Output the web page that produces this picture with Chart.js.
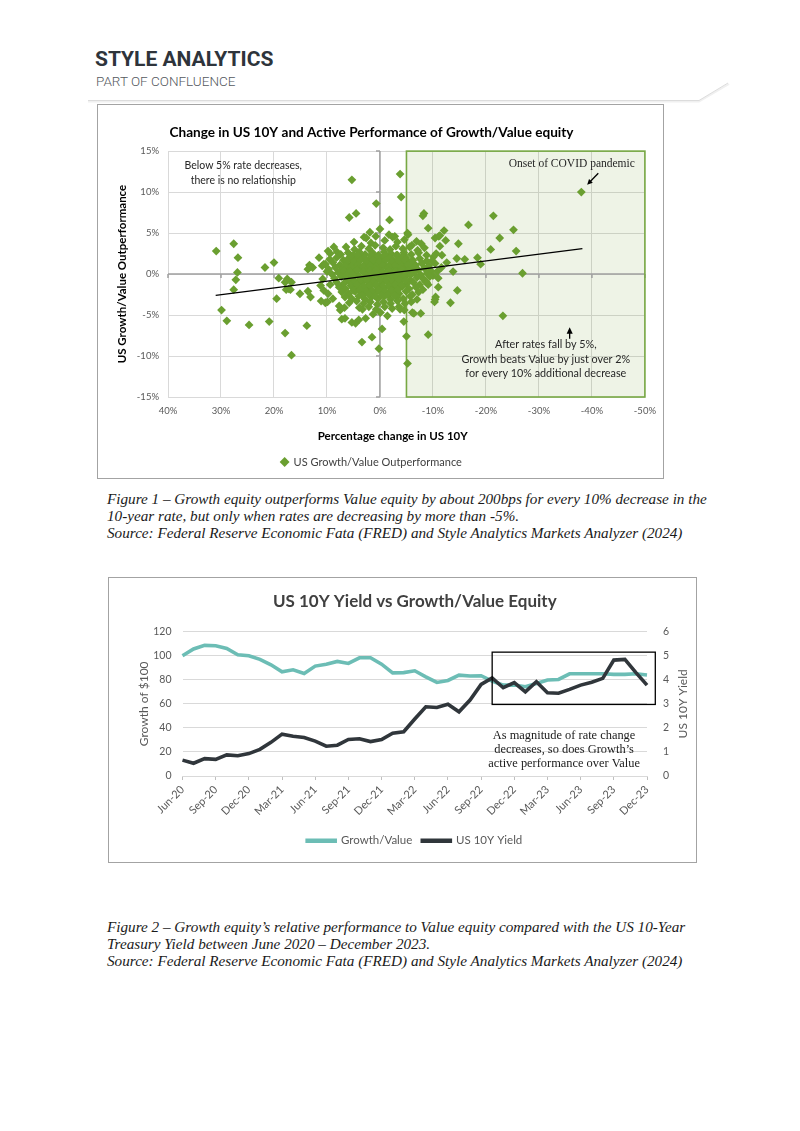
<!DOCTYPE html>
<html>
<head>
<meta charset="utf-8">
<title>Style Analytics - US 10Y and Growth/Value</title>
<script src="https://cdn.jsdelivr.net/npm/chart.js@4.4.1/dist/chart.umd.min.js"></script>
<style>
  body { margin: 0; background: #fff; }
  .page { position: relative; width: 800px; height: 1131px; overflow: hidden; }
  .brand { position: absolute; left: 95px; top: 49px; font: 700 21px/21px Roboto, sans-serif; color: #2e343b; }
  .brand-sub { position: absolute; left: 96px; top: 75px; font: 300 13.5px/13.5px Roboto, sans-serif; color: #55595e; }
  .rule { position: absolute; left: 0; top: 0; }
  .frame { position: absolute; border: 1px solid #a3a3a3; box-sizing: border-box; }
  canvas { position: absolute; }
  .caption { position: absolute; left: 107px; font: italic 15.2px/17px "Liberation Serif", serif; color: #1a1a1a; white-space: nowrap; }
</style>
</head>
<body>
<div class="page">
  <div class="brand">STYLE ANALYTICS</div>
  <div class="brand-sub">PART OF CONFLUENCE</div>
  <svg class="rule" width="800" height="120">
    <polyline points="88,101.5 699,101.5 729,84" fill="none" stroke="#f0f0f0" stroke-width="2"/>
    <polyline points="88,100.5 699,100.5 728,83" fill="none" stroke="#dcdcdc" stroke-width="1"/>
  </svg>

  <div class="frame" style="left:97px; top:104px; width:567px; height:375px;"></div>
  <canvas id="rateScatter" width="567" height="375" style="left:97px; top:104px;"></canvas>

  <div class="caption" style="top:490px;">
    Figure 1 – Growth equity outperforms Value equity by about 200bps for every 10% decrease in the<br>
    10-year rate, but only when rates are decreasing by more than -5%.<br>
    Source: Federal Reserve Economic Fata (FRED) and Style Analytics Markets Analyzer (2024)
  </div>

  <div class="frame" style="left:108px; top:577px; width:589px; height:286px;"></div>
  <canvas id="yieldLines" width="589" height="286" style="left:108px; top:577px;"></canvas>

  <div class="caption" style="top:918px;">
    Figure 2 – Growth equity’s relative performance to Value equity compared with the US 10-Year<br>
    Treasury Yield between June 2020 – December 2023.<br>
    Source: Federal Reserve Economic Fata (FRED) and Style Analytics Markets Analyzer (2024)
  </div>
</div>

<script>
// ---- Figure 1 data: [% change in US 10Y, Growth/Value outperformance %] per month ----
const monthlyObservations = [
  // rates rising a lot
  [30.9, 2.8], [27.6, 3.7], [26.8, 2.0], [26.9, 0.2], [27.2, -0.7], [27.6, -1.9], [29.9, -4.4], [28.9, -5.7],
  [24.7, -6.2], [21.7, 0.8], [20.0, 1.4], [20.9, -5.8], [19.5, -3.0], [19.1, -0.5], [17.9, -7.2], [16.7, -9.9],
  [17.9, -1.0], [17.5, -0.6], [17.7, -1.9], [17.2, -1.8], [16.7, -1.0], [16.9, -1.9], [15.1, -2.4], [13.6, -2.1],
  [13.1, -2.8], [13.6, 0.6], [13.3, 1.1], [12.7, 0.8], [13.1, 0.9], [13.8, -6.3], [11.5, 2.0], [11.1, -3.3],
  [10.9, 1.0], [10.6, 1.2], [10.8, -0.6], [11.2, -1.4], [10.6, -2.0], [10.3, -3.5], [9.9, -3.4], [8.7, 3.3],
  [7.5, -4.4], [9.8, 2.8], [9.4, -1.3], [9.8, -2.4], [10.0, 0.3], [8.9, -3.0], [7.7, -3.9], [6.7, -4.1],
  // around zero, away from the mass
  [5.3, 11.5], [-3.8, 12.2], [-4.0, 9.4], [0.7, 8.6], [4.5, 7.4], [5.8, 6.9], [-1.8, 6.6], [0.0, 5.5],
  [3.0, 4.5], [1.9, 5.1], [-1.7, 4.8], [-2.8, 4.6], [3.4, -8.3], [1.5, -7.7], [0.2, -9.1], [-0.4, -6.7],
  [-1.4, -5.1], [-5.2, -10.9], [-5.0, -7.6], [3.3, -4.3], [2.7, -5.4], [7.2, -5.5], [6.6, -5.4], [5.3, -5.9],
  [4.6, -6.0], [4.0, -5.6], [-3.6, -4.0], [-3.8, -4.3], [-6.4, -4.8], [-6.1, -4.7], [-7.7, -4.8], [-4.5, -5.8],
  [-5.2, 5.0], [-6.0, 3.5],
  // rates falling
  [-8.3, 7.4], [-8.1, 7.1], [-9.1, 5.6], [-5.3, 4.8], [-10.4, 4.4], [-11.1, 4.6], [-11.3, 4.7], [-12.1, 5.3],
  [-12.4, 4.1], [-11.3, 3.4], [-11.7, 2.3], [-16.7, 6.0], [-21.4, 7.1], [-25.2, 5.4], [-22.6, 4.4], [-20.9, 3.0],
  [-25.7, 2.8], [-14.8, 3.7], [-14.5, 1.9], [-16.0, 1.8], [-18.4, 2.0], [-19.0, 1.2], [-12.6, 1.4], [-13.8, 0.3],
  [-26.9, 0.1], [-23.2, -5.1], [-13.3, -3.5], [-14.6, -2.0], [-11.0, -1.6], [-10.5, -2.8], [-10.3, -3.4], [-10.4, -3.1],
  [-9.1, -7.4], [-11.0, -0.5], [-10.8, 0.3], [-10.4, 1.3], [-10.6, 2.5], [-10.1, 2.1], [-9.8, 1.6], [-9.1, -1.3],
  [-8.6, -0.9], [-38.0, 10.0],
  // the dense mass of small moves
  [2.6, 4.4], [-0.9, 4.1], [-2.4, 4.5], [-4.6, 4.2], [0.8, 4.6], [-3.3, 3.9], [4.9, 3.9], [-6.9, 4.0], [-7.8, 3.7], [1.7, 3.8],
  [6.4, 3.3], [4.8, 3.0], [3.5, 3.4], [2.1, 3.1], [0.9, 3.5], [-0.6, 3.2], [-1.9, 3.0], [-3.0, 3.4], [-4.3, 3.1], [-5.6, 3.3],
  [-7.1, 2.9], [-8.4, 3.2], [8.1, 2.7],
  [7.4, 2.4], [6.0, 2.6], [5.0, 2.3], [3.9, 2.7], [2.8, 2.4], [1.4, 2.6], [0.3, 2.3], [-0.8, 2.7], [-2.1, 2.5], [-3.3, 2.3],
  [-4.5, 2.6], [-5.9, 2.4], [-7.3, 2.6], [-8.8, 2.3], [9.4, 2.5],
  [9.5, 1.8], [8.2, 2.0], [6.9, 1.7], [5.8, 2.0], [4.6, 1.8], [3.4, 2.1], [2.2, 1.7], [1.0, 2.0], [-0.1, 1.8], [-1.3, 2.1],
  [-2.5, 1.7], [-3.7, 1.9], [-4.9, 2.0], [-6.2, 1.7], [-7.5, 1.9], [-8.8, 1.6],
  [10.3, 1.2], [8.9, 1.4], [7.6, 1.1], [6.5, 1.4], [5.3, 1.2], [4.2, 1.5], [3.0, 1.1], [1.7, 1.4], [0.6, 1.2], [-0.6, 1.5],
  [-1.8, 1.1], [-3.0, 1.4], [-4.2, 1.2], [-5.4, 1.5], [-6.7, 1.1], [-7.9, 1.3], [-9.2, 1.0],
  [9.7, 0.6], [8.4, 0.8], [7.2, 0.5], [6.0, 0.8], [4.9, 0.6], [3.7, 0.9], [2.5, 0.5], [1.3, 0.8], [0.1, 0.6], [-1.1, 0.9],
  [-2.3, 0.5], [-3.5, 0.8], [-4.7, 0.6], [-5.9, 0.9], [-7.2, 0.5], [-8.4, 0.7], [-9.6, 0.4], [-11.6, 0.8],
  [9.1, 0.0], [7.9, 0.2], [6.7, -0.1], [5.5, 0.2], [4.4, 0.0], [3.2, 0.3], [2.0, -0.1], [0.8, 0.2], [-0.4, 0.0], [-1.6, 0.3],
  [-2.8, -0.1], [-4.0, 0.2], [-5.2, 0.0], [-6.5, 0.3], [-7.7, -0.1], [-8.9, 0.1], [-10.0, -0.2],
  [8.6, -0.5], [7.3, -0.3], [6.1, -0.6], [5.0, -0.4], [3.8, -0.7], [2.7, -0.4], [1.5, -0.6], [0.3, -0.3], [-0.9, -0.7], [-2.1, -0.4],
  [-3.3, -0.6], [-4.5, -0.3], [-5.7, -0.7], [-7.0, -0.4], [-8.2, -0.6], [-9.4, -0.3],
  [8.2, -1.0], [6.9, -1.2], [5.7, -0.9], [4.5, -1.2], [3.4, -1.0], [2.2, -1.3], [1.0, -0.9], [-0.2, -1.2], [-1.4, -1.0], [-2.6, -1.3],
  [-3.8, -0.9], [-5.0, -1.2], [-6.3, -1.0], [-7.5, -1.3], [-8.8, -1.0],
  [7.7, -1.6], [6.5, -1.8], [5.3, -1.5], [4.1, -1.8], [2.9, -1.6], [1.8, -1.9], [0.6, -1.5], [-0.6, -1.8], [-1.8, -1.6], [-3.0, -1.9],
  [-4.2, -1.5], [-5.5, -1.8], [-6.8, -1.6], [-8.1, -1.9],
  [7.2, -2.2], [5.9, -2.4], [4.7, -2.1], [3.5, -2.5], [2.3, -2.2], [1.1, -2.4], [0.0, -2.1], [-1.2, -2.5], [-2.4, -2.2], [-3.6, -2.4],
  [-4.9, -2.1], [-6.1, -2.5], [-7.3, -2.2],
  [6.6, -2.8], [5.3, -3.0], [4.0, -2.7], [2.8, -3.1], [1.6, -2.8], [0.4, -3.0], [-0.8, -2.7], [-2.0, -3.1], [-3.2, -2.8], [-4.4, -3.0],
  [-5.7, -2.7], [-7.0, -3.1],
  [5.8, -3.5], [4.4, -3.3], [3.1, -3.6], [1.8, -3.4], [0.5, -3.7], [-0.7, -3.4], [-2.0, -3.6], [-3.3, -3.3], [-4.7, -3.6], [-5.9, -3.4],
  [3.9, -4.1], [2.1, -4.0], [0.7, -4.3], [-0.9, -4.0], [-2.3, -4.2], [-4.6, -4.4], [-0.1, -4.7], [1.3, -4.9],
  // heart of the mass
  [5.5, 2.1], [4.2, 2.3], [2.9, 2.0], [1.7, 2.3], [0.5, 2.1], [-0.7, 2.2], [-1.9, 2.0], [-3.1, 2.3], [-4.3, 2.1],
  [6.2, 1.6], [4.9, 1.5], [3.7, 1.7], [2.5, 1.5], [1.3, 1.7], [0.1, 1.5], [-1.1, 1.7], [-2.3, 1.5], [-3.5, 1.6], [-4.7, 1.7], [-5.9, 1.5],
  [6.6, 1.0], [5.4, 0.9], [4.2, 1.1], [3.1, 0.9], [1.9, 1.0], [0.7, 0.9], [-0.5, 1.1], [-1.7, 0.9], [-2.9, 1.0], [-4.1, 0.9], [-5.3, 1.1], [-6.6, 0.9],
  [6.8, 0.4], [5.6, 0.3], [4.3, 0.5], [3.1, 0.3], [1.9, 0.4], [0.7, 0.5], [-0.5, 0.3], [-1.7, 0.4], [-2.9, 0.3], [-4.1, 0.5], [-5.3, 0.4], [-6.5, 0.3],
  [6.3, -0.2], [5.1, -0.1], [3.9, -0.3], [2.6, -0.2], [1.4, -0.1], [0.2, -0.3], [-1.0, -0.2], [-2.2, -0.1], [-3.4, -0.3], [-4.6, -0.2], [-5.8, -0.1],
  [6.0, -0.8], [4.8, -0.9], [3.6, -0.7], [2.4, -0.8], [1.2, -0.9], [0.0, -0.7], [-1.2, -0.8], [-2.4, -0.9], [-3.6, -0.7], [-4.8, -0.8],
  [5.5, -1.4], [4.3, -1.3], [3.1, -1.5], [1.9, -1.4], [0.7, -1.3], [-0.5, -1.5], [-1.7, -1.4], [-2.9, -1.3], [-4.1, -1.4],
  [5.0, -2.0], [3.8, -1.9], [2.6, -2.1], [1.4, -2.0], [0.2, -1.9], [-1.0, -2.1], [-2.2, -2.0], [-3.4, -1.9],
  [3.3, -2.6], [2.1, -2.5], [0.9, -2.7], [-0.3, -2.6], [-1.5, -2.5], [-2.7, -2.6]
];

// linear trend through the cloud (Excel trendline)
const trendSlope = -0.0824;
const trendIntercept = -0.05;
const trendRange = [31, -38.2];

const zoneFrom = -5;          // shaded zone: rates falling more than 5%
const xTicksPct = [40, 30, 20, 10, 0, -10, -20, -30, -40, -50];

// ---- Figure 2 data: monthly, Jun-20 .. Dec-23 ----
const months = [
  'Jun-20', 'Jul-20', 'Aug-20', 'Sep-20', 'Oct-20', 'Nov-20', 'Dec-20',
  'Jan-21', 'Feb-21', 'Mar-21', 'Apr-21', 'May-21', 'Jun-21', 'Jul-21', 'Aug-21', 'Sep-21', 'Oct-21', 'Nov-21', 'Dec-21',
  'Jan-22', 'Feb-22', 'Mar-22', 'Apr-22', 'May-22', 'Jun-22', 'Jul-22', 'Aug-22', 'Sep-22', 'Oct-22', 'Nov-22', 'Dec-22',
  'Jan-23', 'Feb-23', 'Mar-23', 'Apr-23', 'May-23', 'Jun-23', 'Jul-23', 'Aug-23', 'Sep-23', 'Oct-23', 'Nov-23', 'Dec-23'
];
const growthValue = [
  100, 105.6, 108.6, 108.3, 106.1, 100.8, 100,
  97, 92.5, 86.7, 88.3, 85.3, 91.4, 93, 95.3, 93.6, 98.3, 98.3, 93,
  85.8, 86, 87.5, 82.5, 77.8, 79.5, 83.9, 83.1, 83.4, 79, 75.6, 75.6,
  74.2, 77, 79.8, 80.3, 85, 85, 85, 85, 84.5, 84.5, 85, 84
];
const us10yYield = [
  0.66, 0.53, 0.72, 0.69, 0.88, 0.84, 0.93,
  1.11, 1.40, 1.74, 1.65, 1.60, 1.45, 1.24, 1.28, 1.52, 1.55, 1.43, 1.52,
  1.78, 1.84, 2.37, 2.88, 2.85, 2.98, 2.67, 3.16, 3.81, 4.08, 3.67, 3.88,
  3.50, 3.92, 3.46, 3.44, 3.60, 3.78, 3.90, 4.06, 4.82, 4.85, 4.30, 3.78
];

const grey = '#595959';
const gridGrey = '#d9d9d9';
const pointGreen = '#6a9f30';

function writeLines(ctx, lines, cx, cy, gap, font, color) {
  ctx.font = font;
  ctx.fillStyle = color;
  ctx.textAlign = 'center';
  ctx.textBaseline = 'middle';
  lines.forEach((t, i) => ctx.fillText(t, cx, cy + i * gap));
}

function arrow(ctx, fx, fy, tx, ty, head) {
  const ang = Math.atan2(ty - fy, tx - fx);
  ctx.beginPath();
  ctx.moveTo(fx, fy);
  ctx.lineTo(tx - Math.cos(ang) * head * 0.8, ty - Math.sin(ang) * head * 0.8);
  ctx.stroke();
  ctx.beginPath();
  ctx.moveTo(tx, ty);
  ctx.lineTo(tx - head * Math.cos(ang - 0.45), ty - head * Math.sin(ang - 0.45));
  ctx.lineTo(tx - head * Math.cos(ang + 0.45), ty - head * Math.sin(ang + 0.45));
  ctx.closePath();
  ctx.fill();
}

// shaded zone, zero axes and the call-outs of figure 1
const figure1Notes = {
  id: 'figure1Notes',
  beforeDatasetsDraw(chart) {
    const { ctx, chartArea: a, scales: { x, y } } = chart;
    const zx0 = x.getPixelForValue(zoneFrom);
    const zx1 = x.getPixelForValue(x.min);
    ctx.save();
    ctx.fillStyle = 'rgba(112,160,50,0.12)';
    ctx.fillRect(zx0, a.top, zx1 - zx0, a.bottom - a.top);

    const x0 = x.getPixelForValue(0), y0 = y.getPixelForValue(0);
    ctx.strokeStyle = '#a0a0a0';
    ctx.lineWidth = 1.5;
    ctx.beginPath();
    ctx.moveTo(x0, a.top); ctx.lineTo(x0, a.bottom);
    ctx.moveTo(a.left, y0); ctx.lineTo(a.right, y0);
    x.ticks.forEach(t => { const px = x.getPixelForValue(t.value); ctx.moveTo(px, y0); ctx.lineTo(px, y0 + 4); });
    y.ticks.forEach(t => { const py = y.getPixelForValue(t.value); ctx.moveTo(x0 - 4, py); ctx.lineTo(x0, py); });
    ctx.stroke();

    ctx.strokeStyle = '#77a843';
    ctx.lineWidth = 1.6;
    ctx.strokeRect(zx0, a.top, zx1 - zx0, a.bottom - a.top);
    ctx.restore();
  },
  afterDraw(chart) {
    const { ctx, chartArea: a, scales: { x, y } } = chart;
    ctx.save();
    writeLines(ctx, ['Below 5% rate decreases,', 'there is no relationship'],
      x.getPixelForValue(25.8), y.getPixelForValue(13.2), 14.5, '10.5px Lato', '#262626');
    writeLines(ctx, ['Onset of COVID pandemic'],
      x.getPixelForValue(-36.2), y.getPixelForValue(13.45), 0, '11.5px "Liberation Serif"', '#262626');
    writeLines(ctx, ['After rates fall by 5%,', 'Growth beats Value by just over 2%', 'for every 10% additional decrease'],
      x.getPixelForValue(-31.3), y.getPixelForValue(-8.6), 14.6, '10.8px Lato', '#262626');
    ctx.strokeStyle = '#000';
    ctx.fillStyle = '#000';
    ctx.lineWidth = 1.3;
    arrow(ctx, x.getPixelForValue(-41.2), y.getPixelForValue(12.3), x.getPixelForValue(-39.1), y.getPixelForValue(10.9), 6);
    arrow(ctx, x.getPixelForValue(-35.8), y.getPixelForValue(-7.9), x.getPixelForValue(-35.8), y.getPixelForValue(-6.5), 7);
    writeLines(ctx, ['Percentage change in US 10Y'],
      x.getPixelForValue(-2.4), a.bottom + 39.3, 0, 'bold 11.5px Lato', '#000');
    ctx.restore();
  }
};

new Chart(document.getElementById('rateScatter'), {
  type: 'scatter',
  data: {
    datasets: [
      {
        label: 'Linear trend',
        data: trendRange.map(v => ({ x: v, y: trendIntercept + trendSlope * v })),
        showLine: true,
        borderColor: '#000',
        borderWidth: 1.3,
        pointRadius: 0
      },
      {
        label: 'US Growth/Value Outperformance',
        data: monthlyObservations.map(([x, y]) => ({ x, y })),
        pointStyle: 'rectRot',
        pointRadius: 4.4,
        backgroundColor: pointGreen,
        borderWidth: 0
      }
    ]
  },
  options: {
    responsive: false,
    animation: false,
    events: [],
    layout: { padding: { left: 0, right: 18, top: 0, bottom: 1.5 } },
    scales: {
      x: {
        type: 'linear',
        reverse: true,
        min: -50,
        max: 40,
        afterBuildTicks: s => { s.ticks = xTicksPct.map(v => ({ value: v })); },
        ticks: { callback: v => v + '%', font: { family: 'Lato', size: 9.5 }, color: grey, padding: 8, maxRotation: 0 },
        grid: { color: gridGrey, drawTicks: false },
        border: { display: false },
        afterFit: s => { s.height = 51.5; }
      },
      y: {
        min: -15,
        max: 15,
        ticks: { stepSize: 5, callback: v => v + '%', font: { family: 'Lato', size: 9.5 }, color: grey, padding: 9 },
        grid: { color: gridGrey, drawTicks: false },
        border: { display: false },
        title: {
          display: true,
          text: 'US Growth/Value Outperformance',
          font: { family: 'Lato', size: 11.5, weight: 'bold' },
          color: '#000',
          padding: { top: 18, bottom: 0 }
        },
        afterFit: s => { s.width = 71; }
      }
    },
    plugins: {
      title: {
        display: true,
        text: 'Change in US 10Y and Active Performance of Growth/Value equity',
        font: { family: 'Lato', size: 13.6, weight: 'bold' },
        color: '#000',
        padding: { top: 20.8, bottom: 10 }
      },
      legend: {
        position: 'bottom',
        labels: {
          filter: item => item.datasetIndex === 1,
          usePointStyle: true,
          pointStyle: 'rectRot',
          boxWidth: 7,
          boxHeight: 7,
          padding: 8,
          font: { family: 'Lato', size: 11 },
          color: '#404040'
        }
      },
      tooltip: { enabled: false }
    }
  },
  plugins: [figure1Notes]
});

// boxed comment and right-hand axis title of figure 2
const figure2Notes = {
  id: 'figure2Notes',
  afterDatasetsDraw(chart) {
    const { ctx, chartArea: a, scales: { x, y } } = chart;
    ctx.save();
    const bx0 = x.getPixelForValue(28), bx1 = x.getPixelForValue(42.75);
    const by0 = y.getPixelForValue(103), by1 = y.getPixelForValue(59.5);
    ctx.strokeStyle = '#000';
    ctx.lineWidth = 1.3;
    ctx.strokeRect(bx0, by0, bx1 - bx0, by1 - by0);
    writeLines(ctx, ['As magnitude of rate change', 'decreases, so does Growth’s', 'active performance over Value'],
      x.getPixelForValue(34.5), y.getPixelForValue(33.6), 14, '12.4px "Liberation Serif"', '#1a1a1a');
    ctx.translate(a.right + 36, (a.top + a.bottom) / 2);
    ctx.rotate(-Math.PI / 2);
    writeLines(ctx, ['US 10Y Yield'], 0, 0, 0, '12px Lato', grey);
    ctx.restore();
  }
};

new Chart(document.getElementById('yieldLines'), {
  type: 'line',
  data: {
    labels: months,
    datasets: [
      {
        label: 'Growth/Value',
        data: growthValue,
        yAxisID: 'y',
        borderColor: '#6cbdb5',
        backgroundColor: '#6cbdb5',
        borderWidth: 3.6,
        pointRadius: 0,
        order: 1
      },
      {
        label: 'US 10Y Yield',
        data: us10yYield,
        yAxisID: 'y1',
        borderColor: '#30363b',
        backgroundColor: '#30363b',
        borderWidth: 3.6,
        pointRadius: 0,
        order: 0
      }
    ]
  },
  options: {
    responsive: false,
    animation: false,
    events: [],
    layout: { padding: { left: 0, right: 0, top: 0, bottom: 6.5 } },
    scales: {
      x: {
        ticks: {
          autoSkip: false,
          maxRotation: 45,
          minRotation: 45,
          callback: (v, i) => (i % 3 === 0 ? months[i] : ''),
          font: { family: 'Lato', size: 11 },
          color: grey,
          padding: 3
        },
        grid: {
          drawOnChartArea: false,
          drawTicks: true,
          tickLength: 4,
          color: c => (c.index % 3 === 0 ? '#bfbfbf' : 'rgba(0,0,0,0)')
        },
        border: { display: true, color: gridGrey },
        afterFit: s => { s.height = 49; }
      },
      y: {
        position: 'left',
        min: 0,
        max: 120,
        ticks: { stepSize: 20, font: { family: 'Lato', size: 10.5 }, color: grey, padding: 11 },
        grid: { color: gridGrey, drawTicks: false },
        border: { display: false },
        title: {
          display: true,
          text: 'Growth of $100',
          font: { family: 'Lato', size: 12 },
          color: grey,
          padding: { top: 28.8, bottom: 0 }
        },
        afterFit: s => { s.width = 74.5; }
      },
      y1: {
        position: 'right',
        min: 0,
        max: 6,
        ticks: { stepSize: 1, font: { family: 'Lato', size: 10.5 }, color: grey, padding: 16 },
        grid: { display: false, drawTicks: false },
        border: { display: false },
        afterFit: s => { s.width = 50; }
      }
    },
    plugins: {
      title: {
        display: true,
        text: 'US 10Y Yield vs Growth/Value Equity',
        fullSize: false,
        font: { family: 'Lato', size: 17, weight: 'bold' },
        color: '#404040',
        padding: { top: 14, bottom: 20.3 }
      },
      legend: {
        position: 'bottom',
        fullSize: false,
        labels: {
          boxWidth: 28,
          boxHeight: 1,
          padding: 10,
          font: { family: 'Lato', size: 11.5 },
          color: grey,
          sort: (p, q) => p.datasetIndex - q.datasetIndex
        }
      },
      tooltip: { enabled: false }
    }
  },
  plugins: [figure2Notes]
});
</script>
</body>
</html>
